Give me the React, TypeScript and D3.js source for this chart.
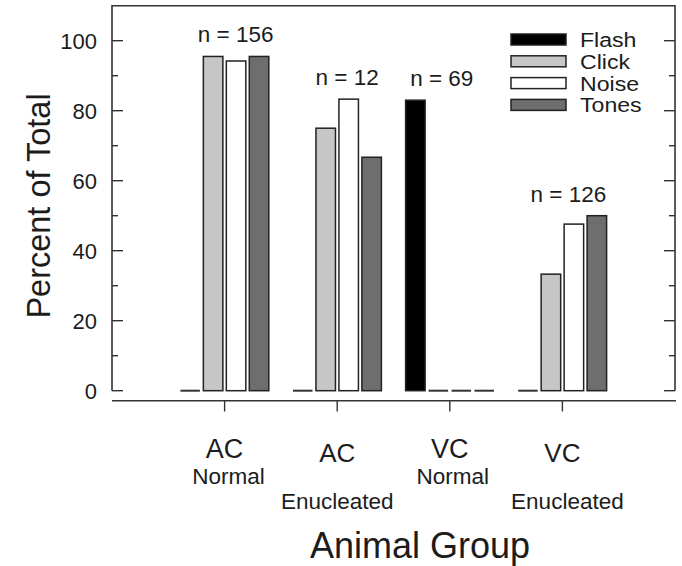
import React from 'react';
import * as d3 from 'd3';

// groups along the x axis
const groupTop = ['AC', 'AC', 'VC', 'VC'];
const groupSub = ['Normal', 'Enucleated', 'Normal', 'Enucleated'];
const groupN = [156, 12, 69, 126];

// stimulus series (percent of total)
const series = ['Flash', 'Click', 'Noise', 'Tones'];
const flash = [0, 0, 83, 0];
const click = [95.5, 75, 0, 33.3];
const noise = [94.2, 83.3, 0, 47.6];
const tones = [95.5, 66.7, 0, 50];

const yTicks = [0, 20, 40, 60, 80, 100];

const fills: Record<string, string> = {
  Flash: '#000000',
  Click: '#c6c6c6',
  Noise: '#ffffff',
  Tones: '#6e6e6e',
};

const W = 682;
const H = 566;
const FONT = '"Liberation Sans", Arial, Helvetica, sans-serif';
const INK = '#1c1c1c';

const App: React.FC = () => {
  const values = [flash, click, noise, tones];

  const x = d3.scaleLinear().domain([0, 5]).range([112, 675]);
  const y = d3.scaleLinear().domain([0, 110]).range([390.7, 5.7]);

  const inner = d3.scaleBand<string>()
    .domain(series)
    .range([-44.2, 44.2])
    .paddingInner(0.15);

  const minor = d3.range(0, 101, 10);
  const left = x(0);
  const right = x(5);

  // small nudges so the n labels sit where the original put them
  const nShift = [11, 10, -8, 6];
  const subShift = [4, 0, 3, 5];

  return (
    <svg width={W} height={H} style={{ position: 'absolute', left: 0, top: 0, background: '#fff' }}
      fontFamily={FONT}>
      {/* frame: left, top, right */}
      <path d={`M${left},${y(0)}V${y(110)}H${right}V${y(0)}`} fill="none" stroke="#333" strokeWidth={1.6} />

      {/* y ticks, both sides, inward */}
      {minor.map(t => {
        const len = t % 20 === 0 ? 11 : 6;
        return (
          <g key={t}>
            <line x1={left} x2={left + len} y1={y(t)} y2={y(t)} stroke="#333" strokeWidth={1.4} />
            <line x1={right} x2={right - len} y1={y(t)} y2={y(t)} stroke="#333" strokeWidth={1.4} />
          </g>
        );
      })}
      {yTicks.map(t => (
        <text key={t} x={97} y={y(t)} dy="0.36em" textAnchor="end" fontSize={22} fill={INK}>{t}</text>
      ))}

      {/* x axis */}
      <line x1={left} x2={right + 1} y1={400.8} y2={400.8} stroke="#333" strokeWidth={1.6} />
      {groupTop.map((_, i) => (
        <line key={i} x1={x(i + 1)} x2={x(i + 1)} y1={400.8} y2={411.5} stroke="#333" strokeWidth={1.4} />
      ))}

      {/* bars */}
      {groupTop.map((_, gi) => (
        <g key={gi} transform={`translate(${x(gi + 1)},0)`}>
          {series.map((s, si) => {
            const v = values[si][gi];
            const bx = inner(s)!;
            const bw = inner.bandwidth();
            if (v <= 0) {
              return <line key={s} x1={bx} x2={bx + bw} y1={y(0)} y2={y(0)} stroke="#333" strokeWidth={2} />;
            }
            return (
              <rect key={s} x={bx} y={y(v)} width={bw} height={y(0) - y(v)}
                fill={fills[s]} stroke="#222" strokeWidth={1.5} />
            );
          })}
        </g>
      ))}

      {/* n labels */}
      {groupN.map((n, gi) => {
        const top = d3.max(values, v => v[gi]) as number;
        return (
          <text key={gi} x={x(gi + 1) + nShift[gi]} y={y(top) - 14} textAnchor="middle" fontSize={22.5} fill={INK}>
            {`n = ${n}`}
          </text>
        );
      })}

      {/* category labels */}
      {groupTop.map((t, gi) => {
        const enu = groupSub[gi] === 'Enucleated';
        return (
          <g key={gi}>
            <text x={x(gi + 1)} y={enu ? 462 : 457.5} textAnchor="middle" fontSize={enu ? 26 : 27} fill={INK}>{t}</text>
            <text x={x(gi + 1) + subShift[gi]} y={enu ? 508.5 : 484} textAnchor="middle" fontSize={22.5} fill={INK}>
              {groupSub[gi]}
            </text>
          </g>
        );
      })}

      {/* axis titles */}
      <text x={420} y={558} textAnchor="middle" fontSize={36} fill={INK}>Animal Group</text>
      <text transform={`translate(50,206) rotate(-90)`} textAnchor="middle" fontSize={32.5} fill={INK}>Percent of Total</text>

      {/* legend */}
      {series.map((s, i) => {
        const cy = 39.5 + i * 21.8;
        return (
          <g key={s}>
            <rect x={511} y={cy - 5.5} width={55} height={11} fill={fills[s]} stroke="#222" strokeWidth={1.5} />
            <text transform={`translate(580,${cy + 7.5}) scale(1.1,1)`} fontSize={21} fill={INK}>{s}</text>
          </g>
        );
      })}
    </svg>
  );
};

export default App;
